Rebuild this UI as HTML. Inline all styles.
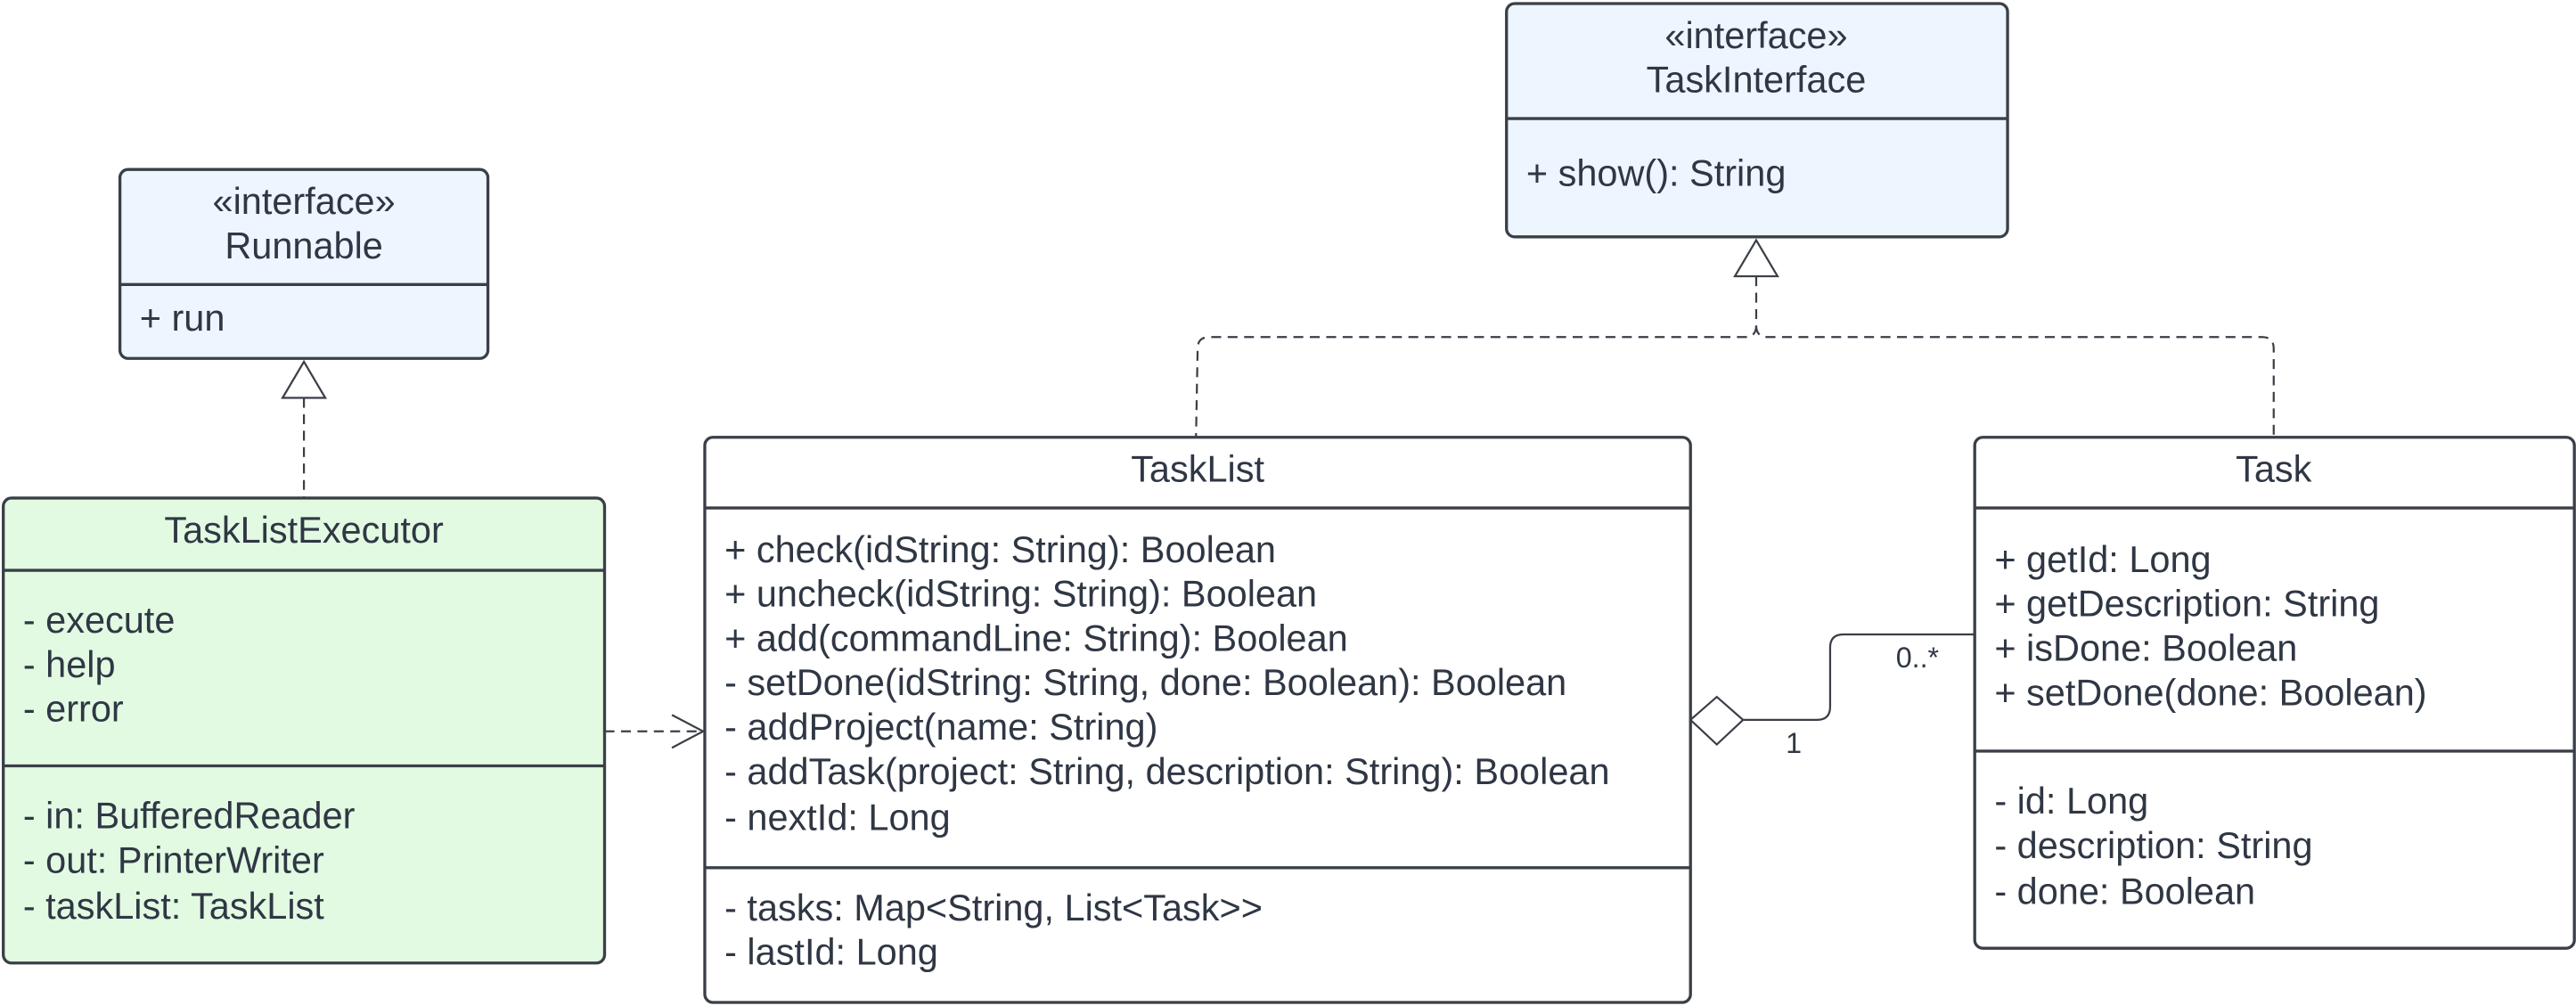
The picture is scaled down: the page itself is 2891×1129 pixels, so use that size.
<!DOCTYPE html>
<html><head><meta charset="utf-8"><style>html,body{margin:0;padding:0;background:#fff;}svg{display:block}</style></head>
<body>
<svg width="2891" height="1129" viewBox="0 0 1568 612" xmlns="http://www.w3.org/2000/svg" font-family="Liberation Sans, Arial, sans-serif" fill="#2f3744">
<g stroke="#3a3f47" stroke-width="1.8">
<rect x="73" y="103" width="224" height="115" rx="5" fill="#edf5ff"/>
<line x1="73" y1="173" x2="297" y2="173"/>
<rect x="917" y="2" width="305" height="142" rx="5" fill="#edf5ff"/>
<line x1="917" y1="72" x2="1222" y2="72"/>
<rect x="2" y="303" width="366" height="283" rx="5" fill="#e2fae2"/>
<line x1="2" y1="347" x2="368" y2="347"/>
<line x1="2" y1="466" x2="368" y2="466"/>
<rect x="429" y="266" width="600" height="344" rx="5" fill="#fff"/>
<line x1="429" y1="309" x2="1029" y2="309"/>
<line x1="429" y1="528" x2="1029" y2="528"/>
<rect x="1202" y="266" width="365" height="311" rx="5" fill="#fff"/>
<line x1="1202" y1="309" x2="1567" y2="309"/>
<line x1="1202" y1="457" x2="1567" y2="457"/>
</g>
<g stroke="#3a3f47" stroke-width="1.2" fill="none">
<path d="M185 242 V303" stroke-dasharray="6,4"/>
<path d="M172 242 L185 220 L198 242 Z" fill="#fff"/>
<path d="M1069 168 V198 Q1069 205 1062 205 H736 Q729 205 729 212 L728 266" stroke-dasharray="6,4"/>
<path d="M1069 198 Q1069 205 1076 205 H1377 Q1384 205 1384 212 V266" stroke-dasharray="6,4"/>
<path d="M1056 168 L1069 146 L1082 168 Z" fill="#fff"/>
<path d="M368 445 H427" stroke-dasharray="6,4"/>
<path d="M409 435 L428 445 L409 455"/>
<path d="M1061 438 H1106 Q1114 438 1114 430 V394 Q1114 386 1122 386 H1202"/>
<path d="M1029 438 L1045 424 L1061 438 L1045 453 Z" fill="#fff"/>
</g>
<g font-size="22.5" text-anchor="middle">
<text x="185" y="130">«interface»</text>
<text x="185" y="157">Runnable</text>
<text x="1069" y="29">«interface»</text>
<text x="1069" y="56">TaskInterface</text>
<text x="185" y="330">TaskListExecutor</text>
<text x="729" y="293">TaskList</text>
<text x="1384" y="293">Task</text>
</g>
<g font-size="22.5">
<text x="85" y="201">+ run</text>
<text x="929" y="113">+ show(): String</text>
<text x="14" y="385">- execute</text>
<text x="14" y="412">- help</text>
<text x="14" y="439">- error</text>
<text x="14" y="504">- in: BufferedReader</text>
<text x="14" y="531">- out: PrinterWriter</text>
<text x="14" y="559">- taskList: TaskList</text>
<text x="441" y="342">+ check(idString: String): Boolean</text>
<text x="441" y="369">+ uncheck(idString: String): Boolean</text>
<text x="441" y="396">+ add(commandLine: String): Boolean</text>
<text x="441" y="423">- setDone(idString: String, done: Boolean): Boolean</text>
<text x="441" y="450">- addProject(name: String)</text>
<text x="441" y="477">- addTask(project: String, description: String): Boolean</text>
<text x="441" y="505">- nextId: Long</text>
<text x="441" y="560">- tasks: Map&lt;String, List&lt;Task&gt;&gt;</text>
<text x="441" y="587">- lastId: Long</text>
<text x="1214" y="348">+ getId: Long</text>
<text x="1214" y="375">+ getDescription: String</text>
<text x="1214" y="402">+ isDone: Boolean</text>
<text x="1214" y="429">+ setDone(done: Boolean)</text>
<text x="1214" y="495">- id: Long</text>
<text x="1214" y="522">- description: String</text>
<text x="1214" y="550">- done: Boolean</text>
</g>
<g font-size="17.5">
<text x="1087" y="458">1</text>
<text x="1154" y="406">0..*</text>
</g>
</svg>
</body></html>
